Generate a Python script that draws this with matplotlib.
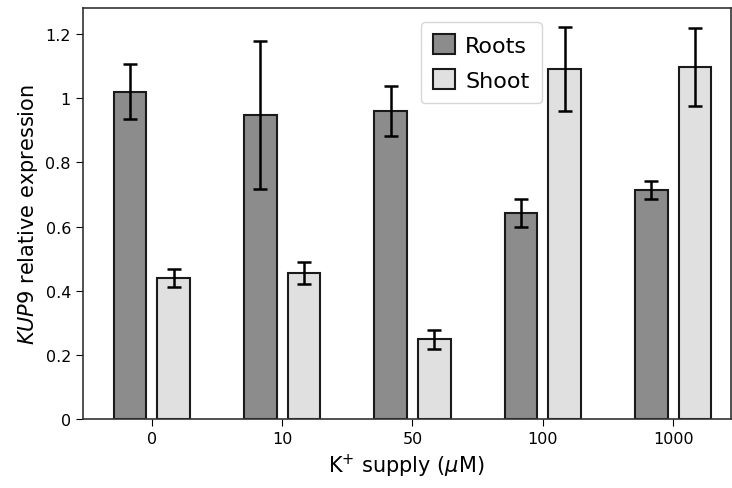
import numpy as np
import matplotlib
matplotlib.use('Agg')
import matplotlib.pyplot as plt

# K+ supply levels and KUP9 relative expression
supply = ['0', '10', '50', '100', '1000']
roots = [1.02, 0.948, 0.96, 0.642, 0.715]
roots_err = [0.085, 0.23, 0.078, 0.044, 0.028]
shoot = [0.44, 0.455, 0.249, 1.091, 1.097]
shoot_err = [0.028, 0.034, 0.03, 0.13, 0.123]
yticks = [0, 0.2, 0.4, 0.6, 0.8, 1.0, 1.2]
ytick_labels = ['0', '0.2', '0.4', '0.6', '0.8', '1', '1.2']

x = np.arange(len(supply))
w = 0.25

fig = plt.figure(figsize=(7.32, 4.89), dpi=100)
ax = fig.add_axes([0.113, 0.141, 0.885, 0.84])

ax.bar(x - 0.167, roots, w, yerr=roots_err, color='#8c8c8c', edgecolor='#1a1a1a',
       linewidth=1.5, capsize=5, error_kw={'elinewidth': 1.8, 'capthick': 1.8},
       label='Roots')
ax.bar(x + 0.167, shoot, w, yerr=shoot_err, color='#e0e0e0', edgecolor='#1a1a1a',
       linewidth=1.5, capsize=5, error_kw={'elinewidth': 1.8, 'capthick': 1.8},
       label='Shoot')

ax.set_xlim(-0.53, 4.44)
ax.set_ylim(0, 1.28)
ax.set_xticks(x)
ax.set_xticklabels(supply, fontsize=11.5)
ax.set_yticks(yticks)
ax.set_yticklabels(ytick_labels, fontsize=11.5)
ax.tick_params(length=5)
for s in ax.spines.values():
    s.set_color('#333333')
    s.set_linewidth(1.2)

ax.set_xlabel(r'K$^{+}$ supply ($\mu$M)', fontsize=15)
ax.set_ylabel(r'$\mathit{KUP9}$ relative expression', fontsize=15)

ax.legend(loc='upper left', bbox_to_anchor=(0.522, 0.966), borderaxespad=0,
          fontsize=16, handlelength=1.0, handleheight=1.0, handletextpad=0.45,
          borderpad=0.55, labelspacing=0.6)

fig.savefig('out.png', dpi=100)
